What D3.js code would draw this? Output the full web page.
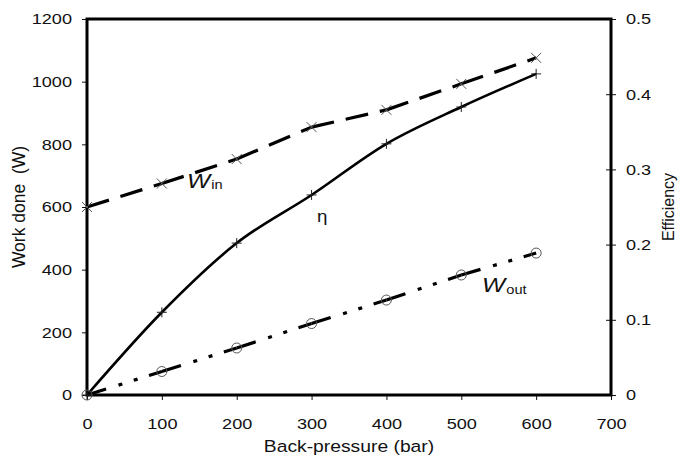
<!DOCTYPE html>
<html>
<head>
<meta charset="utf-8">
<script src="https://cdn.jsdelivr.net/npm/d3@7"></script>
<style>
  body { margin: 0; background: #fff; }
  svg { display: block; font-family: "Liberation Sans", Arial, sans-serif; }
</style>
</head>
<body>
<svg id="chart" width="679" height="460"></svg>
<script>
// back-pressure (bar)
const pressure = [0, 100, 200, 300, 400, 500, 600];
// work in / out (W), efficiency (-)
const workIn = [600, 675, 753, 855, 910, 993, 1076];
const workOut = [0, 75, 150, 228, 303, 383, 453];
const efficiency = [0, 0.110, 0.202, 0.266, 0.334, 0.383, 0.427];

const xTicks = [0, 100, 200, 300, 400, 500, 600, 700];
const yTicks = [0, 200, 400, 600, 800, 1000, 1200];
const y2Ticks = [0, 0.1, 0.2, 0.3, 0.4, 0.5];

const svg = d3.select("#chart");
const plot = { left: 87, right: 611, top: 19, bottom: 395 };
const stretch = 1.17; // 原圖文字偏寬

const x = d3.scaleLinear().domain([0, 700]).range([plot.left, plot.right]);
const y = d3.scaleLinear().domain([0, 1200]).range([plot.bottom, plot.top]);
const y2 = d3.scaleLinear().domain([0, 0.5]).range([plot.bottom, plot.top]);

// 軸
const xAxis = d3.axisBottom(x).tickValues(xTicks).tickSize(5).tickPadding(18).tickFormat(d3.format("d"));
const yAxis = d3.axisLeft(y).tickValues(yTicks).tickSize(5).tickPadding(10).tickFormat(d3.format("d"));
const y2Axis = d3.axisRight(y2).tickValues(y2Ticks).tickSize(5).tickPadding(10).tickFormat(d => d === 0 ? "0" : d3.format(".1f")(d));

function styleAxis(g) {
  g.attr("font-size", null).attr("font-family", null);
  g.select(".domain").remove();
  g.selectAll(".tick line").attr("stroke", "#111").attr("stroke-width", 1);
  g.selectAll(".tick text")
    .attr("font-size", 15.5)
    .attr("fill", "#111")
    .attr("x", function () { return (+d3.select(this).attr("x") || 0) / stretch; })
    .attr("transform", `scale(${stretch},1)`);
}

svg.append("g").attr("transform", `translate(0,${plot.bottom})`).call(xAxis).call(styleAxis);
svg.append("g").attr("transform", `translate(${plot.left},0)`).call(yAxis).call(styleAxis);
const gy2 = svg.append("g").attr("transform", `translate(${plot.right},0)`).call(y2Axis).call(styleAxis);
// 右軸的刻度穿過邊框
gy2.selectAll(".tick line").attr("x1", -5);

// plot frame
svg.append("rect")
  .attr("x", plot.left).attr("y", plot.top)
  .attr("width", plot.right - plot.left).attr("height", plot.bottom - plot.top)
  .attr("fill", "none").attr("stroke", "#000").attr("stroke-width", 3);

// 線 (Excel 每段重新開始虛線樣式)
function drawSegments(vals, scale, dash, width) {
  for (let i = 0; i < vals.length - 1; i++) {
    svg.append("line")
      .attr("x1", x(pressure[i])).attr("y1", scale(vals[i]))
      .attr("x2", x(pressure[i + 1])).attr("y2", scale(vals[i + 1]))
      .attr("stroke", "#000").attr("stroke-width", width)
      .attr("stroke-dasharray", dash);
  }
}

drawSegments(workIn, y, "23,12", 3.2);
drawSegments(workOut, y, "20,13,4,12,4,12", 3.2);

const effLine = d3.line()
  .x((d, i) => x(pressure[i]))
  .y(d => y2(d))
  .curve(d3.curveCardinal.tension(0));

svg.append("path")
  .datum(efficiency)
  .attr("d", effLine)
  .attr("fill", "none").attr("stroke", "#000").attr("stroke-width", 2.6);

// markers
const s = 5;
svg.append("g").selectAll("path")
  .data(workIn).enter().append("path")
  .attr("d", (d, i) => {
    const cx = x(pressure[i]), cy = y(d);
    return `M${cx - s},${cy - s}L${cx + s},${cy + s}M${cx - s},${cy + s}L${cx + s},${cy - s}`;
  })
  .attr("stroke", "#555").attr("stroke-width", 1);

svg.append("g").selectAll("path")
  .data(efficiency).enter().append("path")
  .attr("d", (d, i) => {
    const cx = x(pressure[i]), cy = y2(d);
    return `M${cx - s},${cy}L${cx + s},${cy}M${cx},${cy - s}L${cx},${cy + s}`;
  })
  .attr("stroke", "#222").attr("stroke-width", 1);

svg.append("g").selectAll("circle")
  .data(workOut).enter().append("circle")
  .attr("cx", (d, i) => x(pressure[i]))
  .attr("cy", d => y(d))
  .attr("r", 5)
  .attr("fill", "none").attr("stroke", "#555").attr("stroke-width", 1);

// 寬字體文字
function wideText(px, py) {
  return svg.append("g")
    .attr("transform", `translate(${px},${py}) scale(${stretch},1)`)
    .append("text").attr("fill", "#111");
}

// 曲線標籤
const winLabel = wideText(187, 188);
winLabel.append("tspan").attr("font-size", 21).attr("font-style", "italic").text("W");
winLabel.append("tspan").attr("font-size", 12.5).attr("dx", 1).attr("dy", 1).text("in");

wideText(317, 222).attr("font-size", 16).text("η");

const woutLabel = wideText(482, 292);
woutLabel.append("tspan").attr("font-size", 21).attr("font-style", "italic").text("W");
woutLabel.append("tspan").attr("font-size", 12.5).attr("dx", 1).attr("dy", 2).text("out");

// axis titles
wideText((plot.left + plot.right) / 2, 452)
  .attr("font-size", 16.5).attr("text-anchor", "middle").text("Back-pressure (bar)");

svg.append("text")
  .attr("transform", `translate(25,${(plot.top + plot.bottom) / 2}) rotate(-90)`)
  .attr("font-size", 17.5).attr("fill", "#111")
  .attr("text-anchor", "middle")
  .attr("xml:space", "preserve")
  .text("Work done  (W)");

svg.append("text")
  .attr("transform", `translate(674,${(plot.top + plot.bottom) / 2}) rotate(-90)`)
  .attr("font-size", 16).attr("fill", "#111")
  .attr("text-anchor", "middle").text("Efficiency");
</script>
</body>
</html>
